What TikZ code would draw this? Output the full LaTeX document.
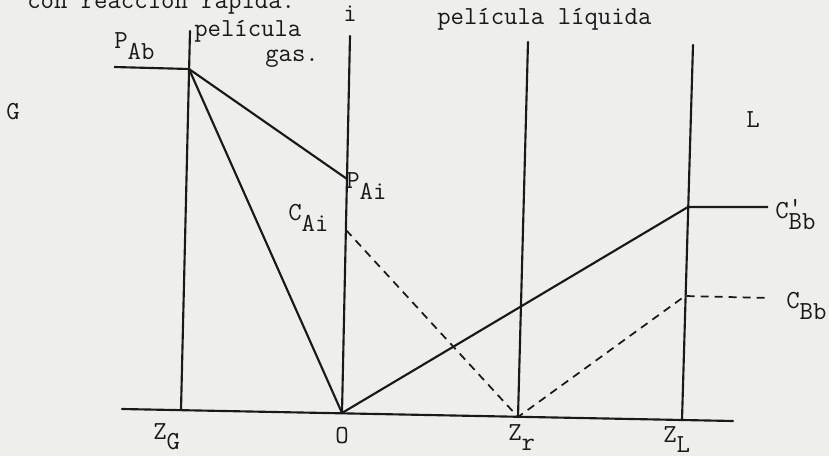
\documentclass[tikz,border=0pt]{standalone}
\definecolor{paper}{RGB}{238, 238, 236}
\definecolor{ink}  {RGB}{ 25,  25,  25}
\tikzset{
  film/.style  = {draw=ink, line width=1.6pt, line cap=round},
  prof/.style  = {draw=ink, line width=1.6pt, line join=round},
  dprof/.style = {draw=ink, line width=1.3pt, dash pattern=on 6pt off 4.5pt},
  lbl/.style   = {inner sep=0pt, text=ink,
                  font=\fontsize{19.5}{22}\selectfont\ttfamily},
}
\newcommand\lo[1]{\raisebox{-0.42em}{#1}}

\begin{document}
\begin{tikzpicture}[x=0.75pt, y=-0.75pt]

\fill[paper] (0,0) rectangle (829,456);
\useasboundingbox (0,0) rectangle (829,456);

% ---- Film boundaries --------------------------------------------------------
\coordinate (bl)   at (122,409);
\coordinate (br)   at (733,421);
\coordinate (gtop) at (190,31);
\coordinate (zg)   at (181,410);
\coordinate (itop) at (350,36);
\coordinate (o)    at (342,413);
\coordinate (rtop) at (528,42);
\coordinate (zr)   at (518,417);
\coordinate (ltop) at (693,45);
\coordinate (zl)   at (682,420);

\draw[film] (bl) -- (br);
\draw[film] (gtop) -- (zg);
\draw[film] (itop) -- (o);
\draw[film] (rtop) -- (zr);
\draw[film] (ltop) -- (zl);

% ---- Concentration profiles -------------------------------------------------
\coordinate (pab0) at (114,67);
\coordinate (pab)  at (189,69);
\coordinate (pai)  at (347,179);
\coordinate (cai)  at (346,230);
\coordinate (cbp)  at (688,207);
\coordinate (cbp1) at (768,207);
\coordinate (cbb)  at (685,296);
\coordinate (cbb1) at (770,298);

\draw[prof] (pab0) -- (pab) -- (pai);
\draw[prof] (pab) -- (o);
\draw[prof] (o) -- (cbp) -- (cbp1);
\draw[dprof] (cai) -- (zr) -- (cbb) -- (cbb1);

% ---- Labels -----------------------------------------------------------------
\node[lbl, anchor=base west] (title) at (27,9)  {con reacción rápida.};
\node[lbl, anchor=base west] (pgas)  at (194,37) {película};
\node[lbl, anchor=base west] (gas)   at (265,62) {gas.};
\node[lbl, anchor=base]      (ilab)  at (350,22) {i};
\node[lbl, anchor=base west] (pliq)  at (437,25) {película líquida};
\node[lbl]                   (glab)  at (13,112) {G};
\node[lbl]                   (llab)  at (753,120) {L};

\node[lbl, anchor=base west] (pablab) at (114,49)  {P\lo{Ab}};
\node[lbl, anchor=base west] (pailab) at (346,189) {P\lo{Ai}};
\node[lbl, anchor=base west] (cailab) at (288,221) {C\lo{Ai}};
\node[lbl, anchor=base west] (cbplab) at (775,219) {C\rlap{\raisebox{0.12em}{'}}\lo{Bb}};
\node[lbl, anchor=base west] (cbblab) at (786,309) {C\lo{Bb}};

\node[lbl, anchor=base west] (zglab) at (153,439) {Z\lo{G}};
\node[lbl]                   (olab)  at (342,436) {O};
\node[lbl, anchor=base west] (zrlab) at (508,440) {Z\lo{r}};
\node[lbl, anchor=base west] (zllab) at (663,442) {Z\lo{L}};

\end{tikzpicture}
\end{document}
